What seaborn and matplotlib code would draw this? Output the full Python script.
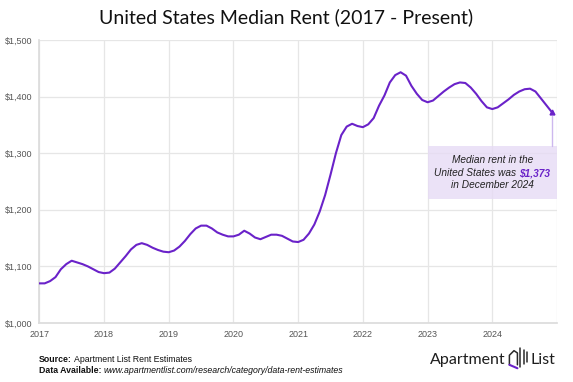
import seaborn as sns
import matplotlib.pyplot as plt
import pandas as pd
from matplotlib.patches import Rectangle
from matplotlib.lines import Line2D

# Data: monthly median rent, Jan 2017 - Dec 2024
years = [2017, 2018, 2019, 2020, 2021, 2022, 2023, 2024]
rent_2017 = [1070, 1070, 1074, 1081, 1095, 1104, 1110, 1107, 1104, 1100, 1095, 1090]
rent_2018 = [1088, 1089, 1096, 1107, 1118, 1130, 1138, 1141, 1138, 1133, 1129, 1126]
rent_2019 = [1125, 1128, 1135, 1145, 1157, 1167, 1172, 1172, 1167, 1160, 1156, 1153]
rent_2020 = [1153, 1156, 1163, 1158, 1151, 1148, 1152, 1156, 1156, 1154, 1149, 1144]
rent_2021 = [1143, 1147, 1158, 1174, 1197, 1226, 1262, 1300, 1332, 1347, 1352, 1348]
rent_2022 = [1346, 1351, 1362, 1384, 1402, 1425, 1438, 1443, 1437, 1419, 1405, 1394]
rent_2023 = [1390, 1393, 1401, 1409, 1416, 1422, 1425, 1424, 1416, 1405, 1392, 1381]
rent_2024 = [1378, 1381, 1388, 1395, 1403, 1409, 1413, 1414, 1409, 1397, 1385, 1373]
y_ticks = [1000, 1100, 1200, 1300, 1400, 1500]
y_labels = ['$1,000', '$1,100', '$1,200', '$1,300', '$1,400', '$1,500']

rent = rent_2017 + rent_2018 + rent_2019 + rent_2020 + rent_2021 + rent_2022 + rent_2023 + rent_2024
dates = pd.date_range('2017-01-01', periods=len(rent), freq='MS')
df = pd.DataFrame({'date': dates.year + (dates.month - 1) / 12, 'rent': rent})

PURPLE = '#6a22c9'

sns.set_theme(style='whitegrid')
plt.rcParams['font.family'] = ['Liberation Sans', 'DejaVu Sans']

fig = plt.figure(figsize=(5.73, 3.82), dpi=100)
ax = fig.add_axes([0.0686, 0.1545, 0.9035, 0.7408])

# Line
sns.lineplot(x='date', y='rent', data=df, color=PURPLE, linewidth=1.5, ax=ax, zorder=4,
             solid_joinstyle='round', solid_capstyle='round')
ax.plot(df['date'].iloc[-1], df['rent'].iloc[-1], marker='^', markersize=3.5, color=PURPLE, zorder=5)

# Axes styling
ax.set_xlim(2017, 2025)
ax.set_ylim(1000, 1500)
ax.set_xticks(years + [2025])
ax.set_xticklabels([str(y) for y in years] + [''])
ax.set_yticks(y_ticks)
ax.set_yticklabels(y_labels)
ax.set_xlabel('')
ax.set_ylabel('')
ax.grid(True, color='#e6e6e6', linewidth=0.9)
for s in ax.spines.values():
    s.set_visible(False)
ax.spines['left'].set_visible(True)
ax.spines['left'].set_color('#dcdcdc')
ax.spines['bottom'].set_visible(True)
ax.spines['bottom'].set_color('#dcdcdc')
ax.tick_params(axis='both', length=0, labelsize=6.5, labelcolor='#555555')
ax.tick_params(axis='x', pad=5)
ax.tick_params(axis='y', pad=5)

# Annotation box
ax.add_patch(Rectangle((2023, 1219), 2, 94, facecolor='#e6dbf5', alpha=0.8,
                       edgecolor='none', zorder=3))
ax.plot([df['date'].iloc[-1]] * 2, [1366, 1313], color='#cdb8ee', linewidth=1, zorder=3)
ax.text(2024, 1288, 'Median rent in the', ha='center', va='center', fontsize=7.3,
        style='italic', color='#222222', zorder=6)
ax.text(2024.42, 1264.5, 'United States was ', ha='right', va='center', fontsize=7.3,
        style='italic', color='#222222', zorder=6)
ax.text(2024.42, 1264.5, '$1,373', ha='left', va='center', fontsize=7.3,
        style='italic', fontweight='bold', color=PURPLE, zorder=6)
ax.text(2024, 1244, 'in December 2024', ha='center', va='center', fontsize=7.3,
        style='italic', color='#222222', zorder=6)

# Title
fig.text(0.5, 0.955, 'United States Median Rent (2017 - Present)', ha='center', va='center',
         fontsize=14, family='Lato', color='#111111')

# Footer
fig.canvas.draw()
renderer = fig.canvas.get_renderer()
t1 = fig.text(0.068, 0.060, 'Source:', fontsize=6.3, fontweight='bold', va='center', color='#111111')
t2 = fig.text(0.068, 0.029, 'Data Available:', fontsize=6.3, fontweight='bold', va='center', color='#111111')
inv = fig.transFigure.inverted()
x1 = inv.transform((t1.get_window_extent(renderer).x1, 0))[0]
x2 = inv.transform((t2.get_window_extent(renderer).x1, 0))[0]
fig.text(x1 + 0.004, 0.060, 'Apartment List Rent Estimates', fontsize=6.3, va='center', color='#111111')
fig.text(x2 + 0.004, 0.029, 'www.apartmentlist.com/research/category/data-rent-estimates',
         fontsize=6.3, va='center', style='italic', color='#111111')

# Logo
fig.text(0.882, 0.058, 'Apartment', ha='right', va='center', fontsize=11.5, family='Lato',
         color='#1e1e1e')
fig.text(0.925, 0.058, 'List', ha='left', va='center', fontsize=11.5, family='Lato',
         color='#1e1e1e')
dark = '#2a2a2a'
fig.add_artist(Line2D([0.889, 0.889, 0.897, 0.903, 0.903], [0.045, 0.070, 0.082, 0.076, 0.045],
                      color=dark, lw=1.1))
fig.add_artist(Line2D([0.908, 0.908], [0.040, 0.088], color=dark, lw=1.1))
fig.add_artist(Line2D([0.914, 0.914], [0.046, 0.084], color=dark, lw=1.1))
fig.add_artist(Line2D([0.920, 0.920], [0.052, 0.078], color=dark, lw=1.1))
fig.add_artist(Line2D([0.889, 0.903], [0.045, 0.036], color=PURPLE, lw=1.5))

plt.savefig('out.png', dpi=100)
